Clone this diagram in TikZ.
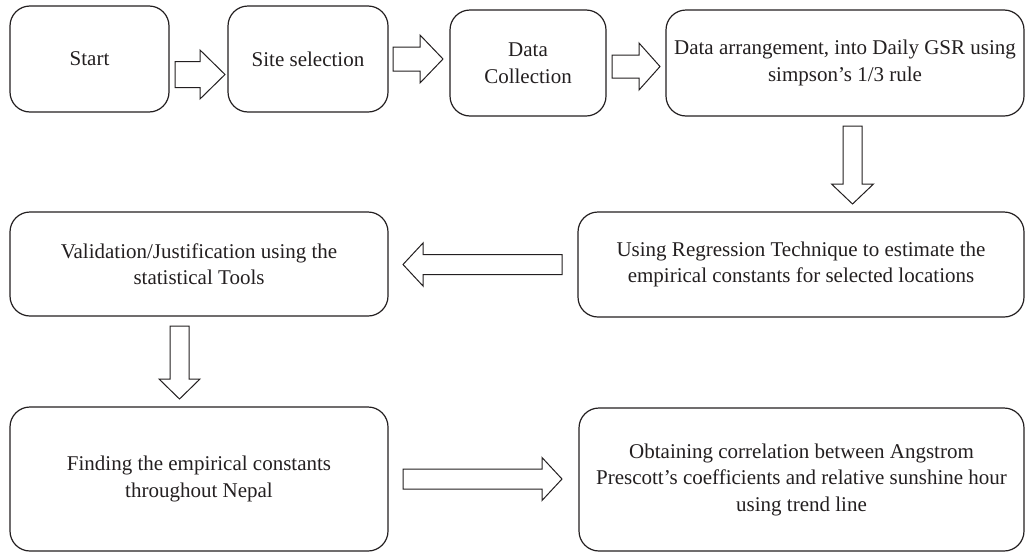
\documentclass[tikz,border=0pt]{standalone}
\usepackage{fontspec}
\setmainfont{Liberation Serif}
\definecolor{ink}{HTML}{231F20}
\begin{document}
\begin{tikzpicture}[x=1pt,y=-1pt,
  stepbox/.style={draw=ink, line width=1.2pt, rounded corners=20pt, inner sep=0pt,
    align=center, text=ink, font=\fontsize{21}{26.5}\selectfont},
  arrowline/.style={draw=ink, line width=1pt, fill=white, line join=miter},
  % hollow block arrow: length / shaft width / head width / head length,
  % tail at the pic origin, pointing along +x
  pics/blockarrow/.style args={#1/#2/#3/#4}{code={
    \path[arrowline] (0,-#2/2) -- ({#1-#4},-#2/2) -- ({#1-#4},-#3/2) -- (#1,0)
      -- ({#1-#4},#3/2) -- ({#1-#4},#2/2) -- (0,#2/2) -- cycle;}}]
\useasboundingbox (0,0) rectangle (1027,552);

% process steps
\node[stepbox, minimum width=159pt, minimum height=106pt] (start) at (89.5,59) {Start};
\node[stepbox, minimum width=160pt, minimum height=106pt] (site) at (308,59) {Site selection};
\node[stepbox, minimum width=156pt, minimum height=106pt] (collect) at (528,63) {Data\\Collection};
\node[stepbox, minimum width=358pt, minimum height=106pt] (arrange) at (845,63)
  {Data arrangement, into Daily GSR using\\simpson’s 1/3 rule};
\node[stepbox, minimum width=446pt, minimum height=105pt] (regress) at (801,264.5)
  {Using Regression Technique to estimate the\\empirical constants for selected locations};
\node[stepbox, minimum width=378pt, minimum height=104pt] (valid) at (199,264)
  {Validation/Justification using the\\statistical Tools};
\node[stepbox, minimum width=378pt, minimum height=144pt] (find) at (199,479)
  {Finding the empirical constants\\throughout Nepal};
\node[stepbox, minimum width=445pt, minimum height=143pt] (corr) at (801.5,479.5)
  {Obtaining correlation between Angstrom\\Prescott’s coefficients and relative sunshine hour\\using trend line};

% hollow block arrows between the steps
\pic (ar1) at (175,74.5) {blockarrow=50/26/49/25};
\pic (ar2) at (393,59) {blockarrow=50/24/48/23};
\pic (ar3) at (612,66.5) {blockarrow=48/23/47/21};
\pic[rotate=-90] (ar4) at (852.5,126) {blockarrow=78/19/42/20};
\pic[rotate=180] (ar5) at (562,264.5) {blockarrow=159/20/43/20};
\pic[rotate=-90] (ar6) at (179.5,326) {blockarrow=73/19/41/20};
\pic (ar7) at (403,479) {blockarrow=159/20/43/20};
\end{tikzpicture}
\end{document}
